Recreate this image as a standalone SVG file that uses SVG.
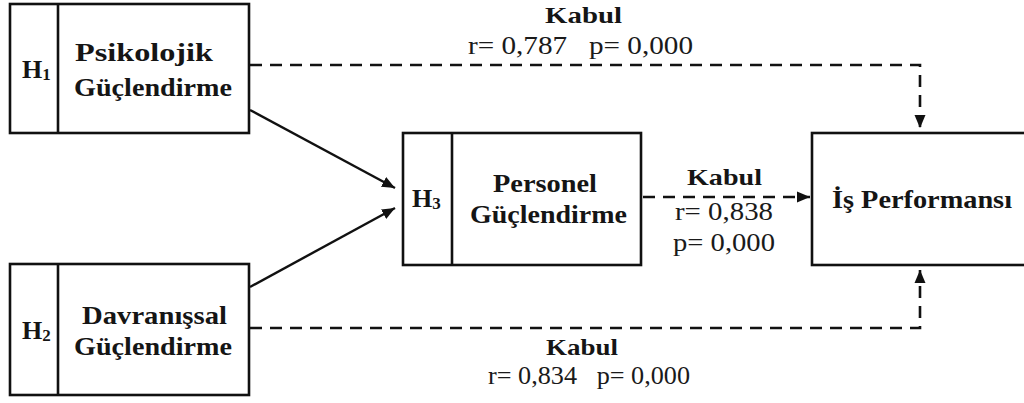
<svg xmlns="http://www.w3.org/2000/svg" width="1024" height="403" viewBox="0 0 1024 403">
  <style>
    .box { fill: #ffffff; stroke: #111111; stroke-width: 2.6; }
    .div { stroke: #111111; stroke-width: 2.6; }
    .lbl { font-family: "Liberation Serif", "Times New Roman", serif; font-weight: bold; font-size: 26px; fill: #151515; }
    .stat { font-family: "Liberation Serif", "Times New Roman", serif; font-size: 25px; fill: #1a1a1a; }
    .kab { font-family: "Liberation Serif", "Times New Roman", serif; font-weight: bold; font-size: 24px; fill: #151515; }
    .solid { fill: none; stroke: #111111; stroke-width: 2.4; }
    .dash { fill: none; stroke: #111111; stroke-width: 2.6; stroke-dasharray: 12 8; }
  </style>
  <defs>
    <marker id="arr" markerUnits="userSpaceOnUse" markerWidth="14" markerHeight="14" viewBox="0 0 14 14" refX="13" refY="7" orient="auto">
      <path d="M0,1.5 L13,7 L0,12.5 Z" fill="#111111"/>
    </marker>
  </defs>
  <rect width="1024" height="403" fill="#ffffff"/>

  <g id="connectors">
    <path class="solid" d="M250,110 L395,188" marker-end="url(#arr)"/>
    <path class="solid" d="M250,287 L395,208" marker-end="url(#arr)"/>
    <path class="dash" d="M250,65 H920 V128" marker-end="url(#arr)"/>
    <path class="dash" d="M250,328 H920 V270" marker-end="url(#arr)"/>
    <path class="dash" d="M643,197 H810" marker-end="url(#arr)"/>
  </g>

  <g id="label-top">
    <text class="kab" x="545" y="23" textLength="77" lengthAdjust="spacingAndGlyphs">Kabul</text>
    <text class="stat" x="468" y="54" textLength="225" lengthAdjust="spacingAndGlyphs" xml:space="preserve">r= 0,787   p= 0,000</text>
  </g>
  <g id="label-mid">
    <text class="kab" x="687" y="185" textLength="75" lengthAdjust="spacingAndGlyphs">Kabul</text>
    <text class="stat" x="675" y="220" textLength="98" lengthAdjust="spacingAndGlyphs">r= 0,838</text>
    <text class="stat" x="673" y="251" textLength="102" lengthAdjust="spacingAndGlyphs">p= 0,000</text>
  </g>
  <g id="label-bottom">
    <text class="kab" x="546" y="355" textLength="72" lengthAdjust="spacingAndGlyphs">Kabul</text>
    <text class="stat" x="488" y="384" textLength="202" lengthAdjust="spacingAndGlyphs" xml:space="preserve">r= 0,834   p= 0,000</text>
  </g>

  <g id="node-h1">
    <rect class="box" x="10" y="4" width="239" height="129"/>
    <line class="div" x1="58" y1="4" x2="58" y2="133"/>
    <text class="lbl" x="22" y="78">H<tspan font-size="17" dy="2">1</tspan></text>
    <text class="lbl" x="75" y="61" textLength="138" lengthAdjust="spacingAndGlyphs">Psikolojik</text>
    <text class="lbl" x="74" y="96" textLength="158" lengthAdjust="spacingAndGlyphs">Güçlendirme</text>
  </g>

  <g id="node-h2">
    <rect class="box" x="10" y="264" width="239" height="131"/>
    <line class="div" x1="58" y1="264" x2="58" y2="395"/>
    <text class="lbl" x="22" y="339">H<tspan font-size="17" dy="2">2</tspan></text>
    <text class="lbl" x="82" y="324" textLength="145" lengthAdjust="spacingAndGlyphs">Davranışsal</text>
    <text class="lbl" x="74" y="355" textLength="158" lengthAdjust="spacingAndGlyphs">Güçlendirme</text>
  </g>

  <g id="node-h3">
    <rect class="box" x="403" y="133" width="238" height="132"/>
    <line class="div" x1="452" y1="133" x2="452" y2="265"/>
    <text class="lbl" x="412" y="207">H<tspan font-size="17" dy="2">3</tspan></text>
    <text class="lbl" x="493" y="192" textLength="104" lengthAdjust="spacingAndGlyphs">Personel</text>
    <text class="lbl" x="470" y="223" textLength="157" lengthAdjust="spacingAndGlyphs">Güçlendirme</text>
  </g>

  <g id="node-performans">
    <rect class="box" x="812" y="133" width="230" height="132"/>
    <text class="lbl" x="832" y="208" textLength="180" lengthAdjust="spacingAndGlyphs">İş Performansı</text>
  </g>
</svg>
